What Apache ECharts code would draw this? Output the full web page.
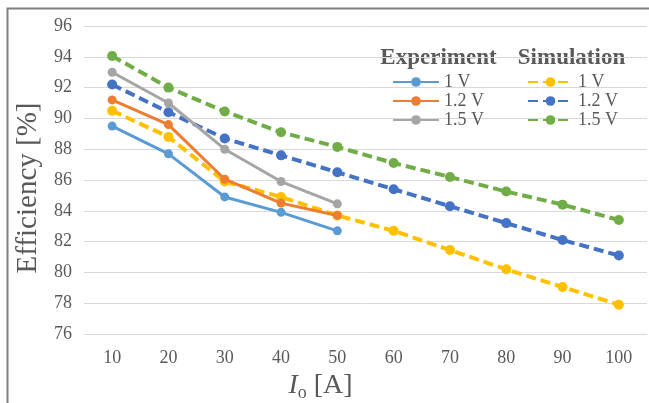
<!DOCTYPE html>
<html>
<head>
<meta charset="utf-8">
<script src="https://cdn.jsdelivr.net/npm/echarts@6/dist/echarts.min.js"></script>
<style>html,body{margin:0;padding:0;background:#fff;}#c{width:649px;height:403px;}</style>
</head>
<body>
<div id="c"></div>
<script>
const categories = ['10','20','30','40','50','60','70','80','90','100'];
const yTicks = [76, 96, 2];
const voltageLabels = ['1 V', '1.2 V', '1.5 V'];
const exp1V  = [89.5, 87.7, 84.9, 83.9, 82.7];
const exp12V = [91.2, 89.6, 86.05, 84.5, 83.7];
const exp15V = [93.0, 91.0, 88.0, 85.9, 84.45];
const sim1V  = [90.5, 88.8, 85.9, 84.9, 83.7, 82.7, 81.45, 80.2, 79.05, 77.9];
const sim12V = [92.2, 90.4, 88.7, 87.6, 86.5, 85.4, 84.3, 83.2, 82.1, 81.1];
const sim15V = [94.05, 92.0, 90.45, 89.1, 88.15, 87.1, 86.2, 85.25, 84.4, 83.4];

const FONT = "'Liberation Serif', 'Times New Roman', serif";
const TXT = '#595959';
const names = {e1:voltageLabels[0], e12:voltageLabels[1], e15:voltageLabels[2], s1:voltageLabels[0], s12:voltageLabels[1], s15:voltageLabels[2]};

function expSeries(id, data, color) {
  return {name:id, type:'line', data:data, symbol:'circle', symbolSize:9,
    itemStyle:{color:color}, lineStyle:{color:color, width:3}, z:3};
}
function simSeries(id, data, color) {
  return {name:id, type:'line', data:data, symbol:'circle', symbolSize:10,
    itemStyle:{color:color}, lineStyle:{color:color, width:4, type:[10,5]}, z:2};
}

const chart = echarts.init(document.getElementById('c'));
chart.setOption({
  animation:false,
  backgroundColor:'#fff',
  textStyle:{fontFamily:FONT},
  grid:{left:84, right:2, top:26, bottom:69, containLabel:false, outerBoundsMode:'none'},
  xAxis:{
    type:'category', data:categories, boundaryGap:true,
    axisLine:{lineStyle:{color:'#d9d9d9'}}, axisTick:{show:false},
    axisLabel:{color:TXT, fontSize:18, fontFamily:FONT, margin:15},
    name:'{i|I}{s|o}{n| [A]}', nameLocation:'middle', nameGap:38,
    nameTextStyle:{padding:[0,90,0,0], rich:{
      i:{fontStyle:'italic', fontSize:28, color:TXT, fontFamily:FONT, verticalAlign:'bottom'},
      s:{fontSize:18, color:TXT, fontFamily:FONT, verticalAlign:'bottom', padding:[0,0,-2,0]},
      n:{fontSize:28, color:TXT, fontFamily:FONT, verticalAlign:'bottom'}
    }}
  },
  yAxis:{
    type:'value', min:yTicks[0], max:yTicks[1], interval:yTicks[2],
    axisLine:{show:false}, axisTick:{show:false},
    splitLine:{lineStyle:{color:'#d9d9d9', width:1}},
    axisLabel:{color:TXT, fontSize:18, fontFamily:FONT, margin:12},
    name:'Efficiency [%]', nameLocation:'middle', nameGap:31,
    nameTextStyle:{color:TXT, fontSize:29, fontFamily:FONT, padding:[0,16,0,0]}
  },
  legend:[
    {data:['e1','e12','e15'], orient:'vertical', left:387, top:68, itemWidth:46, itemHeight:12, itemGap:1,
     formatter:function(n){return names[n];},
     textStyle:{color:TXT, fontSize:18, fontFamily:FONT}},
    {data:['s1','s12','s15'], orient:'vertical', left:522, top:68, itemWidth:45, itemHeight:12, itemGap:1,
     formatter:function(n){return names[n];},
     textStyle:{color:TXT, fontSize:18, fontFamily:FONT}}
  ],
  graphic:[
    {type:'rect', shape:{x:7.5, y:8.5, width:700, height:500}, style:{fill:'none', stroke:'#7f7f7f', lineWidth:2}, silent:true, z:-1},
    {type:'text', x:438.5, y:58, style:{text:'Experiment', fill:TXT, font:"bold 23px 'Liberation Serif', serif", textAlign:'center', textVerticalAlign:'middle'}},
    {type:'text', x:571.5, y:58, style:{text:'Simulation', fill:TXT, font:"bold 23px 'Liberation Serif', serif", textAlign:'center', textVerticalAlign:'middle'}}
  ],
  series:[
    simSeries('s1', sim1V, '#FFC000'),
    simSeries('s12', sim12V, '#4472C4'),
    simSeries('s15', sim15V, '#70AD47'),
    expSeries('e1', exp1V, '#5B9BD5'),
    expSeries('e12', exp12V, '#ED7D31'),
    expSeries('e15', exp15V, '#A5A5A5')
  ]
});
</script>
</body>
</html>
